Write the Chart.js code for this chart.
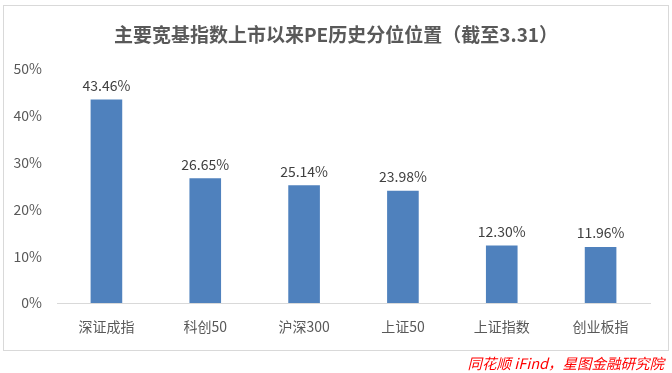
<!DOCTYPE html>
<html>
<head>
<meta charset="utf-8">
<script src="https://cdn.jsdelivr.net/npm/chart.js@4.4.1/dist/chart.umd.min.js"></script>
<style>
  html, body { margin: 0; padding: 0; background: #fff; }
  #wrap { width: 672px; height: 373px; position: relative; }
</style>
</head>
<body>
<div id="wrap"><canvas id="c"></canvas></div>
<script>
const categories = ['深证成指', '科创50', '沪深300', '上证50', '上证指数', '创业板指'];
const percentiles = [43.46, 26.65, 25.14, 23.98, 12.30, 11.96];
const yTicks = [0, 10, 20, 30, 40, 50];

const chartTitle = '主要宽基指数上市以来PE历史分位位置（截至3.31）';
const sourceNote = '同花顺 iFind，星图金融研究院';
const cjk = '"Noto Sans CJK SC", "Microsoft YaHei", sans-serif';

// frame, title, value labels and source line
const decorations = {
  id: 'decorations',
  afterDraw(chart) {
    const ctx = chart.ctx;
    ctx.save();
    ctx.strokeStyle = '#d9d9d9';
    ctx.lineWidth = 1;
    ctx.strokeRect(3.5, 5.5, 665, 345);

    ctx.fillStyle = '#595959';
    ctx.font = 'bold 19px ' + cjk;
    ctx.textAlign = 'center';
    ctx.textBaseline = 'middle';
    ctx.fillText(chartTitle, 336, 35);

    ctx.fillStyle = '#404040';
    ctx.font = '14px ' + cjk;
    ctx.textBaseline = 'bottom';
    const meta = chart.getDatasetMeta(0);
    meta.data.forEach((bar, i) => {
      ctx.fillText(percentiles[i].toFixed(2) + '%', bar.x, bar.y - 7);
    });

    ctx.fillStyle = '#ff0000';
    ctx.font = 'italic 14.5px ' + cjk;
    ctx.textAlign = 'right';
    ctx.textBaseline = 'middle';
    ctx.fillText(sourceNote, 664, 363);
    ctx.restore();
  }
};

new Chart(document.getElementById('c'), {
  type: 'bar',
  data: {
    labels: categories,
    datasets: [{
      data: percentiles,
      backgroundColor: '#4f81bd',
      categoryPercentage: 1,
      barPercentage: 0.32
    }]
  },
  options: {
    responsive: true,
    maintainAspectRatio: false,
    animation: false,
    layout: { padding: { left: 0, right: 22, top: 69, bottom: 0 } },
    scales: {
      x: {
        grid: { display: false, drawTicks: false },
        border: { color: '#d9d9d9' },
        ticks: { color: '#595959', font: { size: 14, family: cjk }, padding: 15 },
        afterFit(scale) { scale.height = 70; }
      },
      y: {
        min: 0,
        max: 50,
        afterBuildTicks(scale) { scale.ticks = yTicks.map(v => ({ value: v })); },
        grid: { display: false, drawTicks: false },
        border: { display: false },
        ticks: {
          color: '#595959',
          font: { size: 14, family: cjk },
          padding: 15,
          callback: v => v + '%'
        },
        afterFit(scale) { scale.width = 57; }
      }
    },
    plugins: {
      legend: { display: false },
      tooltip: { enabled: false }
    }
  },
  plugins: [decorations]
});
</script>
</body>
</html>
